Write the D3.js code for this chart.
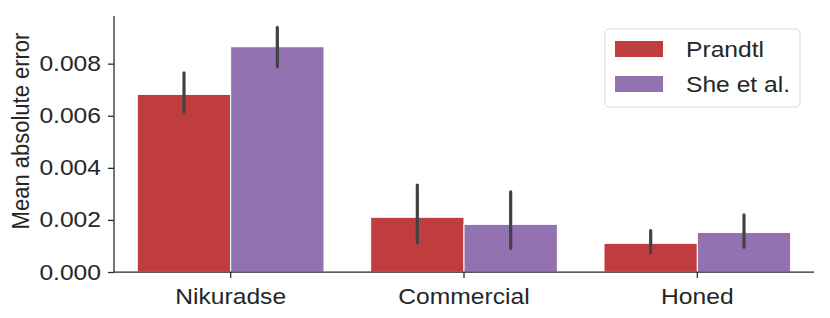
<!DOCTYPE html>
<html>
<head>
<meta charset="utf-8">
<script src="https://cdn.jsdelivr.net/npm/d3@7"></script>
<style>
  body { margin: 0; background: #fff; }
  text { font-family: "Liberation Sans", Arial, sans-serif; fill: #262626; }
</style>
</head>
<body>
<div id="chart"></div>
<script>
"use strict";

const categories = ["Nikuradse", "Commercial", "Honed"];
const series = ["Prandtl", "She et al."];
const colors = ["#c03d3e", "#9372b2"];

// mean values and error bar limits
const prandtl_mean = [0.00682, 0.00210, 0.00110];
const prandtl_low = [0.00615, 0.00113, 0.00074];
const prandtl_high = [0.00765, 0.00334, 0.00159];

const she_mean = [0.00865, 0.00183, 0.00152];
const she_low = [0.00788, 0.00091, 0.00095];
const she_high = [0.00939, 0.00308, 0.00219];

const y_ticks = [0, 0.002, 0.004, 0.006, 0.008];

const width = 830, height = 318;
const margins = {top: 16, right: 16, bottom: 46, left: 114};
const plot_width = width - margins.left - margins.right;
const plot_height = height - margins.top - margins.bottom;

// the reference text looks a little wider than plain Arial
const FONT_SIZE = "22px";
const STRETCH = 1.12;

const svg = d3.select("#chart").append("svg")
    .attr("width", width)
    .attr("height", height);

const g = svg.append("g")
    .attr("transform", "translate(" + margins.left + "," + margins.top + ")");

const x_scale = d3.scaleBand()
    .domain(categories)
    .range([0, plot_width])
    .paddingInner(0.2)
    .paddingOuter(0.1);
const x_inner = d3.scaleBand()
    .domain(series)
    .range([0, x_scale.bandwidth()]);

const y_scale = d3.scaleLinear()
    .domain([0, 0.00983])
    .range([plot_height, 0]);

const rows = [
    {mean: prandtl_mean, low: prandtl_low, high: prandtl_high},
    {mean: she_mean, low: she_low, high: she_high}
];

const bars = [];
series.forEach(function (s, si) {
    categories.forEach(function (c, ci) {
        bars.push({cat: c, ser: s, si: si,
                   mean: rows[si].mean[ci], low: rows[si].low[ci], high: rows[si].high[ci]});
    });
});

g.selectAll("rect.bar")
    .data(bars)
    .enter().append("rect")
    .attr("class", "bar")
    .attr("x", d => x_scale(d.cat) + x_inner(d.ser))
    .attr("width", x_inner.bandwidth())
    .attr("y", d => y_scale(d.mean))
    .attr("height", d => y_scale(0) - y_scale(d.mean))
    .attr("fill", d => colors[d.si])
    .attr("stroke", "#ffffff")
    .attr("stroke-width", 1);

g.selectAll("line.err")
    .data(bars)
    .enter().append("line")
    .attr("class", "err")
    .attr("x1", d => x_scale(d.cat) + x_inner(d.ser) + x_inner.bandwidth() / 2)
    .attr("x2", d => x_scale(d.cat) + x_inner(d.ser) + x_inner.bandwidth() / 2)
    .attr("y1", d => y_scale(d.low))
    .attr("y2", d => y_scale(d.high))
    .attr("stroke", "#424242")
    .attr("stroke-width", 3.2)
    .attr("stroke-linecap", "round");

// Axes
const x_axis = d3.axisBottom(x_scale).tickSize(6).tickPadding(10);
const y_axis = d3.axisLeft(y_scale).tickValues(y_ticks)
    .tickFormat(d3.format(".3f")).tickSize(6).tickPadding(4);

const xg = g.append("g")
    .attr("transform", "translate(0," + plot_height + ")")
    .call(x_axis);
const yg = g.append("g").call(y_axis);

[xg, yg].forEach(function (ax) {
    ax.select(".domain").attr("stroke", "#262626").attr("stroke-width", 1.25)
        .attr("d", ax === xg ? "M0,0H" + plot_width : "M0,0V" + plot_height);
    ax.selectAll(".tick line").attr("stroke", "#262626").attr("stroke-width", 1.25);
    ax.selectAll(".tick text").style("font-size", FONT_SIZE).attr("fill", "#262626");
});

// stretch tick labels sideways around their anchor
xg.selectAll(".tick text").attr("transform", "scale(" + STRETCH + ",1)");
yg.selectAll(".tick text")
    .attr("x", -13 / STRETCH)
    .attr("transform", "scale(" + STRETCH + ",1)");

// rotated label: local y runs along screen x, so stretch that one
svg.append("text")
    .attr("transform", "translate(29,131) rotate(-90) scale(1," + STRETCH + ")")
    .attr("text-anchor", "middle")
    .style("font-size", FONT_SIZE)
    .text("Mean absolute error");

// Legend
const legend = svg.append("g").attr("transform", "translate(605,29)");
legend.append("rect")
    .attr("width", 195).attr("height", 78)
    .attr("rx", 4)
    .attr("fill", "#ffffff")
    .attr("stroke", "#d9d9d9")
    .attr("stroke-width", 1);
series.forEach(function (s, i) {
    legend.append("rect")
        .attr("x", 10).attr("y", 12 + i * 35)
        .attr("width", 48).attr("height", 16)
        .attr("fill", colors[i]);
    legend.append("text")
        .attr("transform", "translate(81," + (20 + i * 35) + ") scale(" + STRETCH + ",1)")
        .attr("dy", "0.35em")
        .style("font-size", FONT_SIZE)
        .text(s);
});
</script>
</body>
</html>
